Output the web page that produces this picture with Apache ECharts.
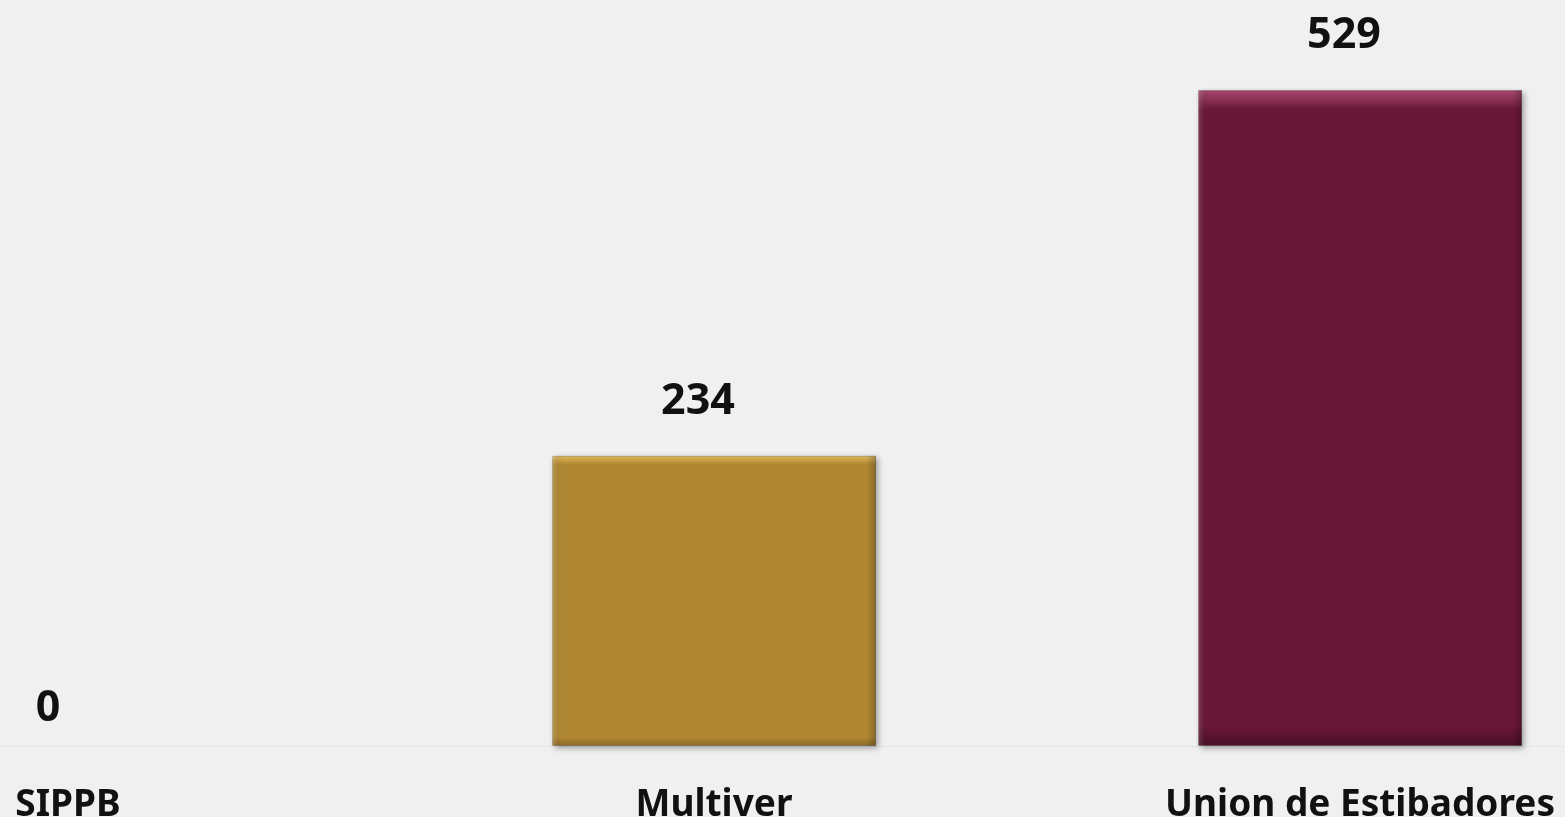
<!DOCTYPE html>
<html>
<head>
<meta charset="utf-8">
<title>Sindicatos</title>
<style>
    html, body { margin: 0; padding: 0; background: #eff0ef; }
    #chart { width: 1565px; height: 817px; }
</style>
</head>
<body>
<div id="chart"></div>
<script src="https://cdn.jsdelivr.net/npm/echarts@6/dist/echarts.min.js"></script>
<script>
var categories = ['SIPPB', 'Multiver', 'Union de Estibadores'];
var values = [0, 234, 529];
var barColors = ['#b08833', '#b08833', '#691736'];
var barTops = ['#e2bb5c', '#e2bb5c', '#a84a70'];
var barBottoms = ['#8c6a27', '#8c6a27', '#4a0f25'];

var chart = echarts.init(document.getElementById('chart'));

var none = 'rgba(0,0,0,0)';

// main bars, top/bottom bevel as vertical gradient
var data = values.map(function (v, i) {
    var item = {
        value: v,
        itemStyle: {
            color: {
                type: 'linear', x: 0, y: 0, x2: 0, y2: 1,
                colorStops: [
                    {offset: 0, color: barTops[i]},
                    {offset: 0.03, color: barColors[i]},
                    {offset: 0.97, color: barColors[i]},
                    {offset: 1, color: barBottoms[i]}
                ]
            }
        }
    };
    if (v === 0) {
        // nothing to draw, just the label a bit lower
        item.itemStyle = {color: none, borderWidth: 0, shadowBlur: 0, shadowOffsetX: 0, shadowOffsetY: 0};
        item.label = {offset: [-20, 17]};
    }
    return item;
});

// side bevel overlay
var bevel = values.map(function (v) {
    return {
        value: v,
        itemStyle: v === 0 ? {color: none} : {
            color: {
                type: 'linear', x: 0, y: 0, x2: 1, y2: 0,
                colorStops: [
                    {offset: 0, color: 'rgba(255,255,255,0.18)'},
                    {offset: 0.03, color: none},
                    {offset: 0.97, color: none},
                    {offset: 1, color: 'rgba(0,0,0,0.22)'}
                ]
            }
        }
    };
});

var option = {
    backgroundColor: '#eff0ef',
    animation: false,
    grid: {left: -255, right: -118, top: 2, bottom: 71, outerBoundsMode: 'none', containLabel: false},
    xAxis: {
        type: 'category',
        data: categories,
        axisLine: {lineStyle: {color: '#e4e5e4', width: 1}},
        axisTick: {show: false},
        axisLabel: {
            interval: 0,
            margin: 41,
            color: '#111',
            fontFamily: 'Noto Sans',
            fontWeight: 'bold',
            fontSize: 37
        }
    },
    yAxis: {
        type: 'value',
        min: 0,
        max: 600,
        show: false,
        splitLine: {show: false}
    },
    series: [{
        type: 'bar',
        barWidth: 324,
        data: data,
        itemStyle: {
            borderColor: 'rgba(0,0,0,0.18)',
            borderWidth: 1,
            shadowColor: 'rgba(0,0,0,0.35)',
            shadowBlur: 6,
            shadowOffsetX: 2,
            shadowOffsetY: 2
        },
        label: {
            show: true,
            position: 'top',
            distance: 33,
            offset: [-16, 0],
            color: '#111',
            fontFamily: 'Noto Sans',
            fontWeight: 'bold',
            fontSize: 43
        }
    }, {
        type: 'bar',
        barWidth: 324,
        barGap: '-100%',
        silent: true,
        data: bevel
    }]
};

chart.setOption(option);
</script>
</body>
</html>
